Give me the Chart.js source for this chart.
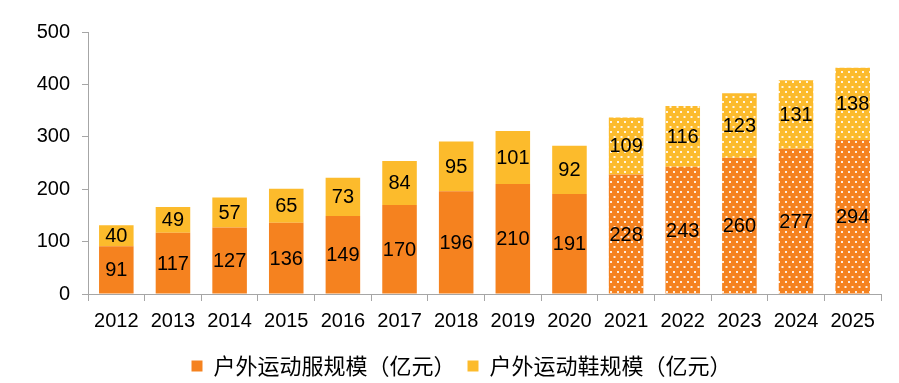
<!DOCTYPE html>
<html><head><meta charset="utf-8">
<script src="https://cdn.jsdelivr.net/npm/chart.js@4/dist/chart.umd.min.js"></script>
<style>html,body{margin:0;padding:0;background:#fff}#w{width:899px;height:383px}</style>
</head><body><div id="w"><canvas id="c"></canvas></div>
<script>
const categories = ['2012','2013','2014','2015','2016','2017','2018','2019','2020','2021','2022','2023','2024','2025'];
const apparel = [91,117,127,136,149,170,196,210,191,228,243,260,277,294];
const footwear = [40,49,57,65,73,84,95,101,92,109,116,123,131,138];
const forecastFrom = 9; // index of first forecast year (2021)
const seriesNames = ['户外运动服规模（亿元）','户外运动鞋规模（亿元）'];

const ORANGE = '#F5821F', YELLOW = '#FCBB2C';
function makePattern(color){
  const t = document.createElement('canvas'); t.width = 7; t.height = 10;
  const g = t.getContext('2d');
  g.fillStyle = color; g.fillRect(0,0,7,10);
  g.fillStyle = 'rgba(255,255,255,0.85)';
  g.fillRect(1,1,2,2); g.fillRect(4.5,6,2,2);
  return g.createPattern(t,'repeat');
}
const pats = {o: makePattern(ORANGE), y: makePattern(YELLOW)};

const labelPlugin = {
  id:'vals',
  afterDatasetsDraw(chart){
    const ctx = chart.ctx;
    ctx.save();
    ctx.font = '20px "Liberation Sans", Arial, sans-serif';
    ctx.fillStyle = '#000'; ctx.textAlign = 'center'; ctx.textBaseline = 'middle';
    chart.data.datasets.forEach((ds,di)=>{
      chart.getDatasetMeta(di).data.forEach((el,i)=>{
        const p = el.getProps(['x','y','base'],true);
        ctx.fillText(String(ds.data[i]), p.x, (p.y+p.base)/2 + 1);
      });
    });
    ctx.restore();
  }
};
const legendShift = {
  id:'legendShift',
  afterLayout(chart){
    const l = chart.legend; if(!l) return;
    l.top += 4; l.bottom += 4; l.left += 21; l.right += 21;
  }
};

new Chart(document.getElementById('c'), {
  type:'bar',
  data:{
    labels: categories,
    datasets:[
      {label: seriesNames[0], data: apparel,
       backgroundColor: c => (c.dataIndex >= forecastFrom ? pats.o : ORANGE)},
      {label: seriesNames[1], data: footwear,
       backgroundColor: c => (c.dataIndex >= forecastFrom ? pats.y : YELLOW)}
    ]
  },
  options:{
    responsive:true, maintainAspectRatio:false, animation:false,
    layout:{padding:{top:32,right:18,left:0,bottom:0}},
    datasets:{bar:{barPercentage:0.61, categoryPercentage:1}},
    plugins:{
      tooltip:{enabled:false},
      legend:{position:'bottom',
        labels:{
          font:{size:22, family:'"Noto Sans CJK SC", sans-serif'},
          color:'#000', boxWidth:11, boxHeight:11, padding:12,
          generateLabels: ch => ch.data.datasets.map((d,i)=>({
            text:d.label, fillStyle: i===0?ORANGE:YELLOW, strokeStyle:'rgba(0,0,0,0)', lineWidth:0, datasetIndex:i
          }))
        }}
    },
    scales:{
      x:{stacked:true,
        afterFit(s){ s.height = 45; },
        grid:{drawOnChartArea:false, color:'#A6A6A6', tickLength:7, offset:true},
        border:{color:'#A6A6A6'},
        ticks:{color:'#000', font:{size:20, family:'"Liberation Sans", Arial, sans-serif'}, padding:8, maxRotation:0}
      },
      y:{stacked:true, min:0, max:500,
        afterFit(s){ s.width = 88; },
        grid:{drawOnChartArea:false, color:'#A6A6A6', tickLength:6},
        border:{color:'#A6A6A6'},
        ticks:{stepSize:100, color:'#000', font:{size:20, family:'"Liberation Sans", Arial, sans-serif'}, padding:12}
      }
    }
  },
  plugins:[labelPlugin, legendShift]
});
</script></body></html>
